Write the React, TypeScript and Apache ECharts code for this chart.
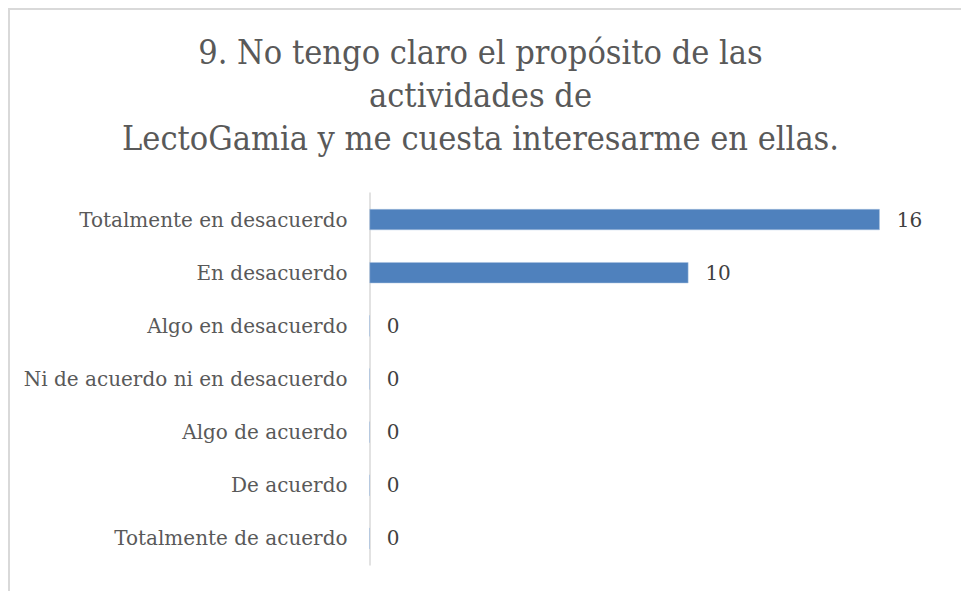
import React, { useEffect, useRef } from "react";
import * as echarts from "echarts";

const titleLines = [
  "9. No tengo claro el propósito de las",
  "actividades de",
  "LectoGamia y me cuesta interesarme en ellas.",
];
const categories = [
  "Totalmente en desacuerdo",
  "En desacuerdo",
  "Algo en desacuerdo",
  "Ni de acuerdo ni en desacuerdo",
  "Algo de acuerdo",
  "De acuerdo",
  "Totalmente de acuerdo",
];
const values = [16, 10, 0, 0, 0, 0, 0];

export default function App() {
  const ref = useRef<HTMLDivElement>(null);
  useEffect(() => {
    if (!ref.current) return;
    const chart = echarts.init(ref.current, null, { renderer: "svg" });
    chart.setOption({
      animation: false,
      backgroundColor: "#ffffff",
      title: {
        text: titleLines.join("\n"),
        left: "center",
        top: 25,
        textStyle: {
          fontFamily: "DejaVu Serif Condensed",
          fontSize: 34,
          fontWeight: "normal",
          color: "#595959",
          lineHeight: 43,
        },
      },
      graphic: [
        {
          type: "rect",
          shape: { x: 9, y: 9, width: 1000, height: 1000 },
          style: { fill: "none", stroke: "#d9d9d9", lineWidth: 2 },
          silent: true,
        },
      ],
      grid: { left: 369.5, top: 193, bottom: 26, right: 17.5, containLabel: false },
      xAxis: {
        type: "value",
        min: 0,
        max: 18,
        show: false,
        splitLine: { show: false },
      },
      yAxis: {
        type: "category",
        data: categories,
        inverse: true,
        axisLine: { show: true, lineStyle: { color: "#d9d9d9", width: 1.5 } },
        axisTick: { show: false },
        axisLabel: {
          margin: 22,
          fontFamily: "DejaVu Serif",
          fontSize: 20,
          color: "#595959",
        },
      },
      series: [
        {
          type: "bar",
          data: values,
          barWidth: 21,
          itemStyle: { color: "#4f81bd", borderColor: "#a9c0de", borderWidth: 0.5 },
          label: {
            show: true,
            position: "right",
            distance: 17,
            fontFamily: "DejaVu Serif",
            fontSize: 20,
            color: "#404040",
          },
        },
      ],
    });
    return () => chart.dispose();
  }, []);
  return (
    <div
      ref={ref}
      style={{ position: "absolute", left: 0, top: 0, width: 961, height: 591 }}
    />
  );
}
